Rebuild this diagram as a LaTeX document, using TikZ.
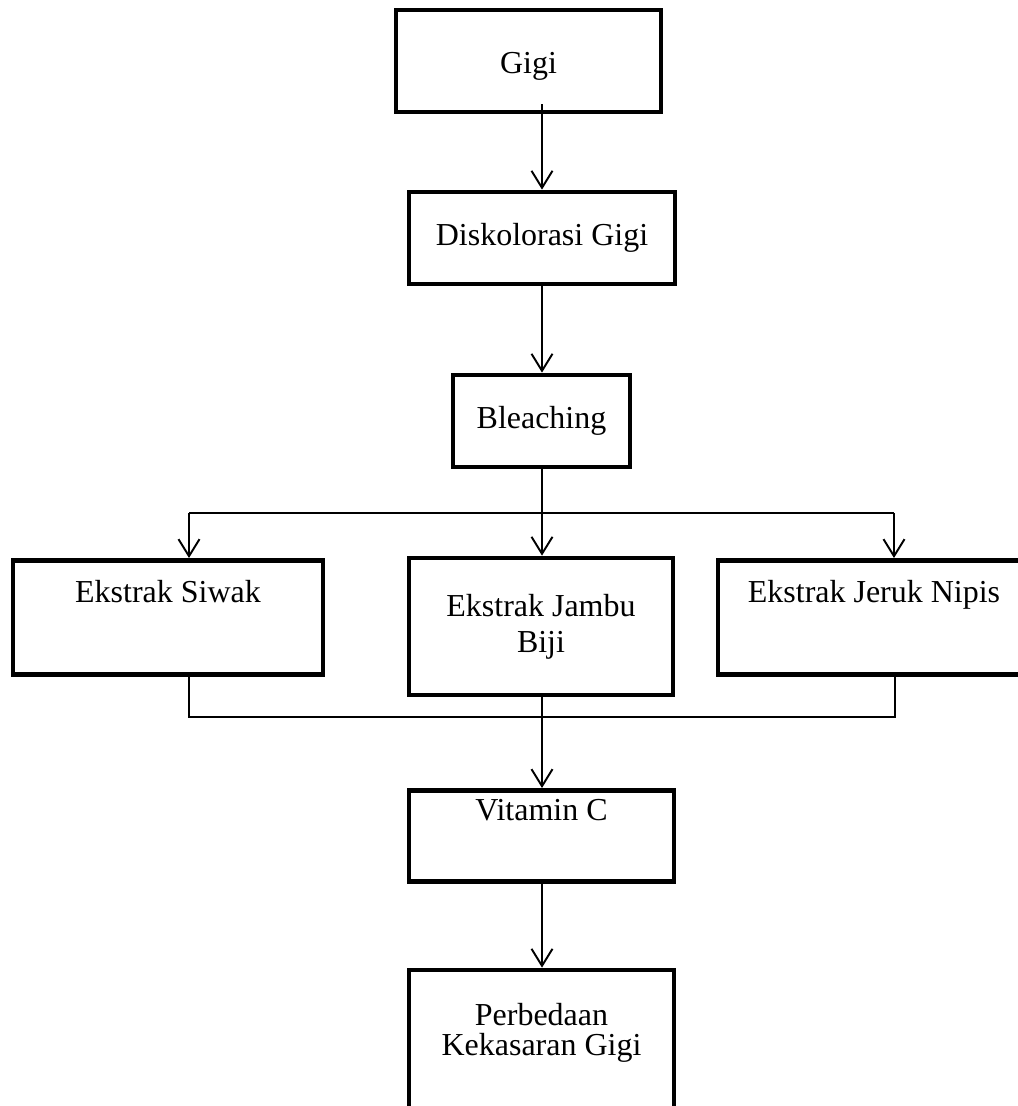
\documentclass[tikz,border=0pt]{standalone}
\usepackage{fontspec}
\setmainfont{Liberation Serif}
\usetikzlibrary{arrows.meta}

\begin{document}
\begin{tikzpicture}[x=0.02cm, y=-0.02cm,
    box/.style    = {draw, rectangle, line width=2.7pt, inner sep=0pt,
                     align=center, font=\fontsize{18.2}{20.5}\selectfont},
    topbox/.style = {box, anchor=north},
    arr/.style    = {-{Straight Barb[length=0.34cm, width=0.42cm, line width=1.1pt]},
                     line width=1.1pt},
    link/.style   = {line width=1.1pt}
  ]
    \useasboundingbox (0,0) rectangle (1018,1106);

    \node[box, minimum width=5.3cm, minimum height=2.04cm, text height=0.62cm]
          (gigi)   at (528.5,61)  {Gigi};
    \node[box, minimum width=5.32cm, minimum height=1.84cm] (disk)   at (542,238)   {Diskolorasi Gigi};
    \node[box, minimum width=3.54cm, minimum height=1.84cm] (bleach) at (541.5,421) {Bleaching};

    \node[topbox, minimum width=6.2cm, text height=0.84cm, text depth=1.44cm]
          (siwak) at (168,558) {Ekstrak Siwak};
    \node[box, minimum width=5.28cm, minimum height=2.74cm]
          (jambu) at (541,626.5) {Ekstrak Jambu\\Biji};
    \node[topbox, minimum width=6.24cm, text height=0.84cm, text depth=1.44cm]
          (jeruk) at (874,558) {Ekstrak Jeruk Nipis};

    \node[topbox, minimum width=5.3cm, text height=0.6cm, text depth=1.22cm]
          (vitc) at (541.5,788) {Vitamin C};
    \node[box, minimum width=5.3cm, minimum height=2.76cm, text depth=0.38cm,
          font=\fontsize{18.2}{17}\selectfont]
          (perb) at (541.5,1039) {Perbedaan\\Kekasaran Gigi};

    % branching from Bleaching
    \coordinate (lft) at (189,513);
    \coordinate (rgt) at (894,513);
    \coordinate (jl)  at (189,717);
    \coordinate (jr)  at (895,717);

    \draw[arr] ([yshift=0.2cm]gigi.south -| disk.north) -- (disk.north);
    \draw[arr] (disk.south -| 542,0) -- (bleach.north -| 542,0);
    \draw[link] (bleach.south -| 542,0) -- (542,513);
    \draw[link] (lft) -- (rgt);
    \draw[arr] (lft) -- (lft |- siwak.north);
    \draw[arr] (542,513) -- (jambu.north -| 542,0);
    \draw[arr] (rgt) -- (rgt |- jeruk.north);

    % joining into Vitamin C
    \draw[link] (jl |- siwak.south) -- (jl) -- (jr) -- (jr |- jeruk.south);
    \draw[arr] (jambu.south -| 542,0) -- (vitc.north -| 542,0);
    \draw[arr] (vitc.south -| 542,0) -- (perb.north -| 542,0);
\end{tikzpicture}
\end{document}
